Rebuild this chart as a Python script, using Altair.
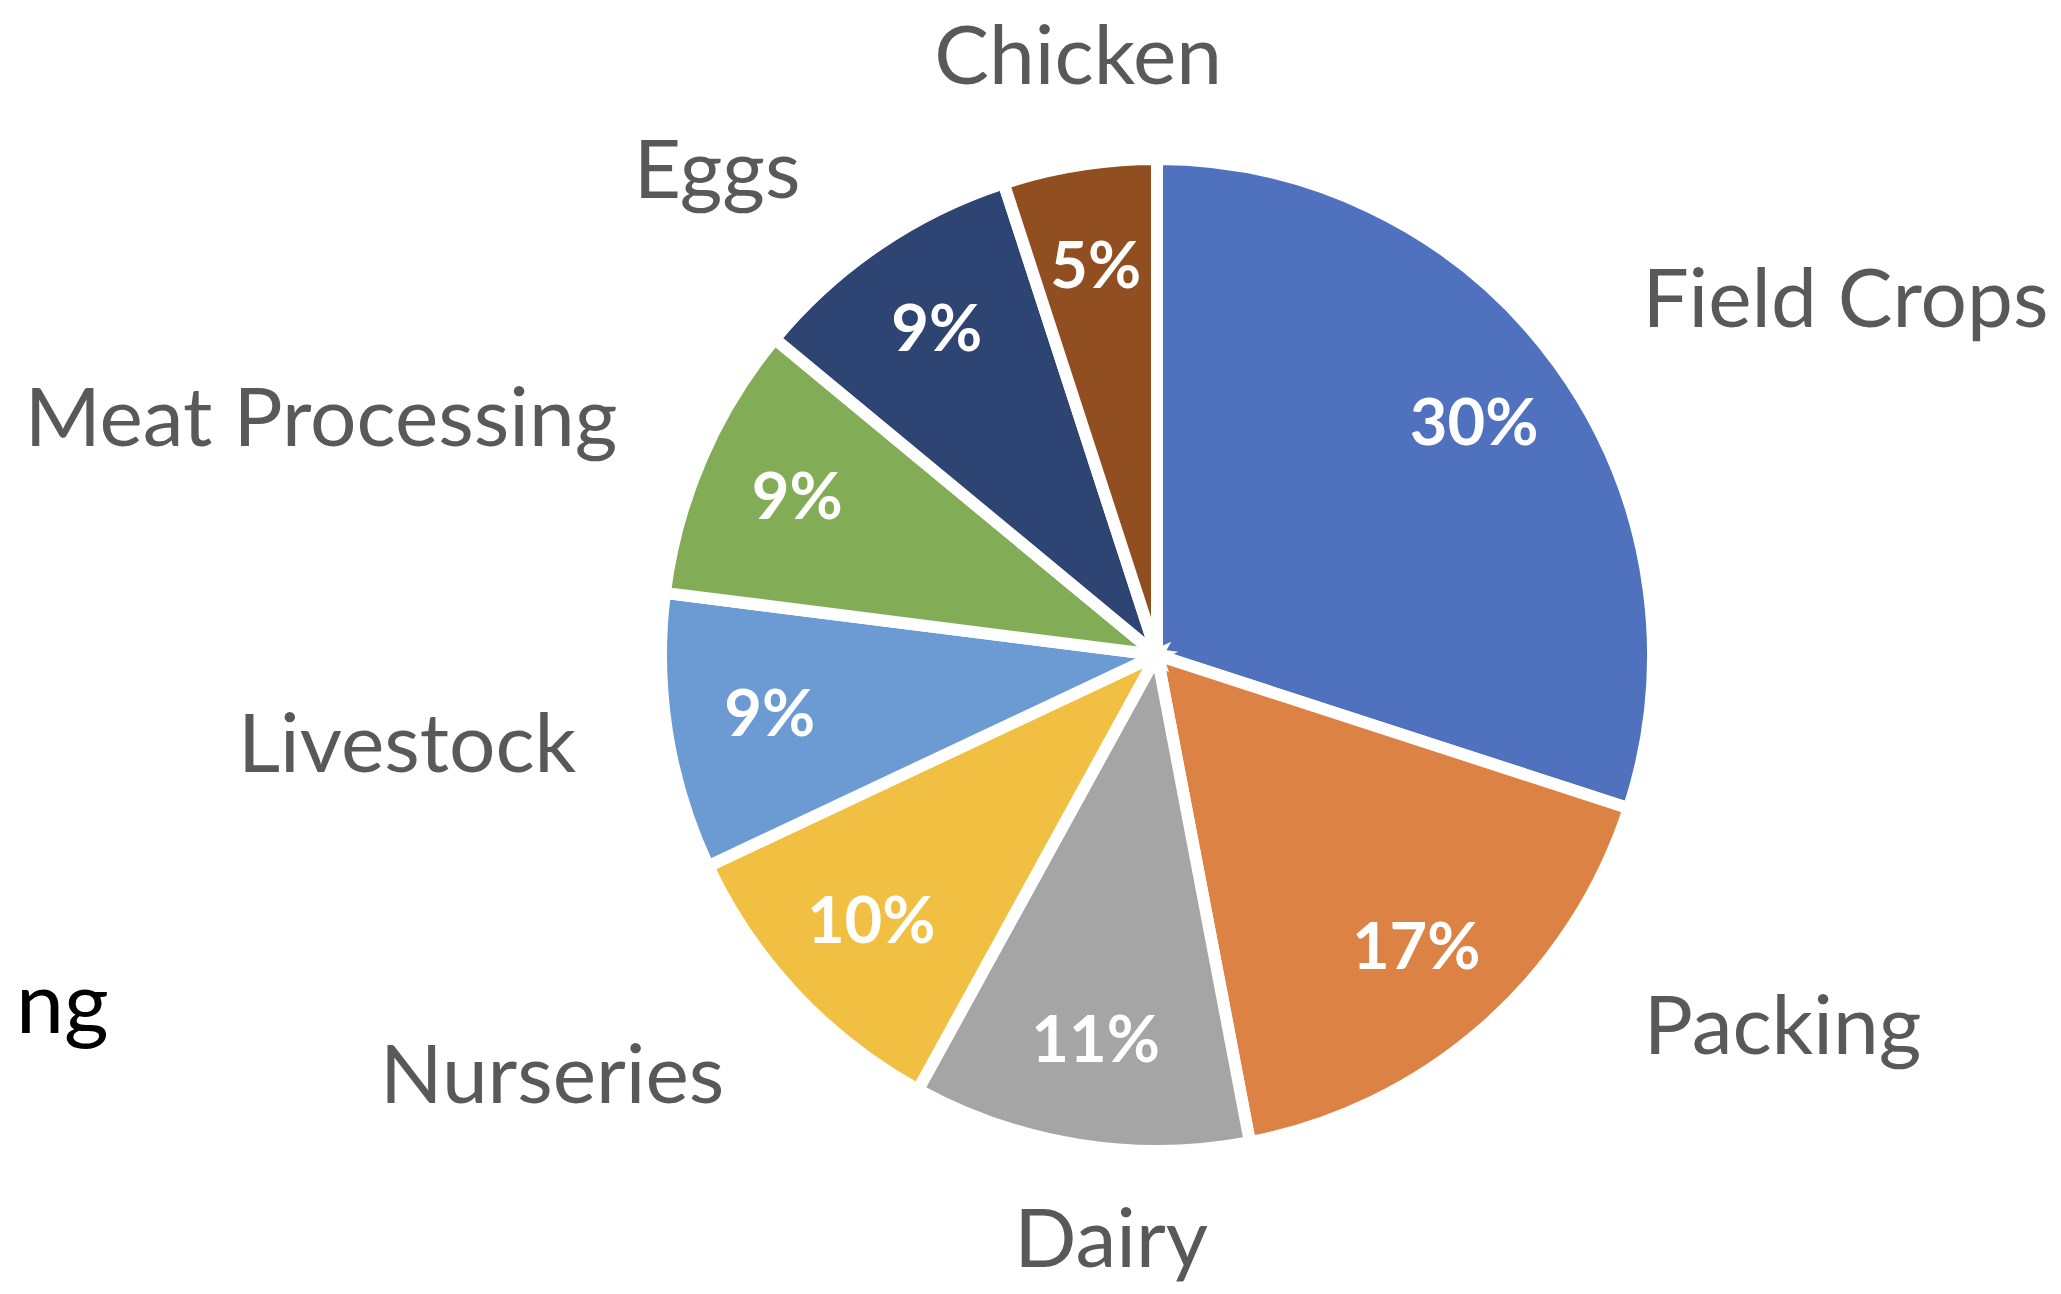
import altair as alt
import pandas as pd

categories = ["Field Crops", "Packing", "Dairy", "Nurseries", "Livestock",
              "Meat Processing", "Eggs", "Chicken"]
values = [30, 17, 11, 10, 9, 9, 9, 5]
colors = ["#5072BE", "#DD8245", "#A5A5A5", "#F1C043", "#6B9BD2",
          "#82AC56", "#2E4473", "#914E21"]
fragment_text = ["ng"]

df = pd.DataFrame({"category": categories, "value": values,
                   "idx": list(range(len(categories)))})

CX, CY = 1149, 647
R = 496
FONT = "Lato"

center = dict(x=alt.value(CX), y=alt.value(CY))

MID = "((datum.cum - datum.value/2) / datum.total * 2 * PI)"
base = (
    alt.Chart(df)
    .transform_joinaggregate(total="sum(value)")
    .transform_window(cum="sum(value)", sort=[alt.SortField("idx")], frame=[None, 0])
    .transform_calculate(
        mid=MID,
        pct="format(datum.value / datum.total, '.0%')",
        side=f"abs(sin({MID})) < 0.3 ? (cos({MID}) > 0 ? 't' : 'b') : "
             f"(sin({MID}) > 0 ? (cos({MID}) > 0 ? 'r' : 'br') : "
             f"(cos({MID}) > 0.6 ? 'tl' : (cos({MID}) < -0.6 ? 'bl' : 'l')))",
    )
)

pie = alt.Chart(df).mark_arc(outerRadius=R, stroke="white", strokeWidth=12).encode(
    theta=alt.Theta("value:Q", stack=True),
    order=alt.Order("idx:Q"),
    color=alt.Color("category:N", scale=alt.Scale(domain=categories, range=colors), legend=None),
    **center,
)

inner = base.mark_text(radius=392, font=FONT, fontSize=65, fontWeight="bold",
                       color="white", baseline="middle", align="center").encode(
    theta=alt.Theta("mid:Q", scale=None),
    text="pct:N",
    **center,
)

def outer(side, align, radius=600, dx=0, dy=0):
    return base.transform_filter(alt.datum.side == side).mark_text(
        radius=radius, font=FONT, fontSize=82, color="#595959",
        baseline="middle", align=align, dx=dx, dy=dy).encode(
        theta=alt.Theta("mid:Q", scale=None),
        text="category:N",
        **center,
    )

frag = alt.Chart(pd.DataFrame({"t": fragment_text})).mark_text(
    font=FONT, fontSize=86, color="black", align="left", baseline="alphabetic").encode(
    text="t:N", x=alt.value(8), y=alt.value(1025))

chart = alt.layer(
    pie, inner,
    outer("r", "left"),
    outer("br", "left", dx=90, dy=-76),
    outer("l", "right", radius=588),
    outer("tl", "right", radius=588, dx=-26, dy=4),
    outer("bl", "right", radius=588, dx=-4, dy=20),
    outer("t", "center", dx=15, dy=-3),
    outer("b", "center", dx=48, dy=-6),
    frag,
).properties(
    width=2045, height=1278,
    autosize=alt.AutoSizeParams(type="none"), padding=0,
).configure_view(stroke=None)

chart.save("out.html", embed_options={"renderer": "svg", "actions": False})
